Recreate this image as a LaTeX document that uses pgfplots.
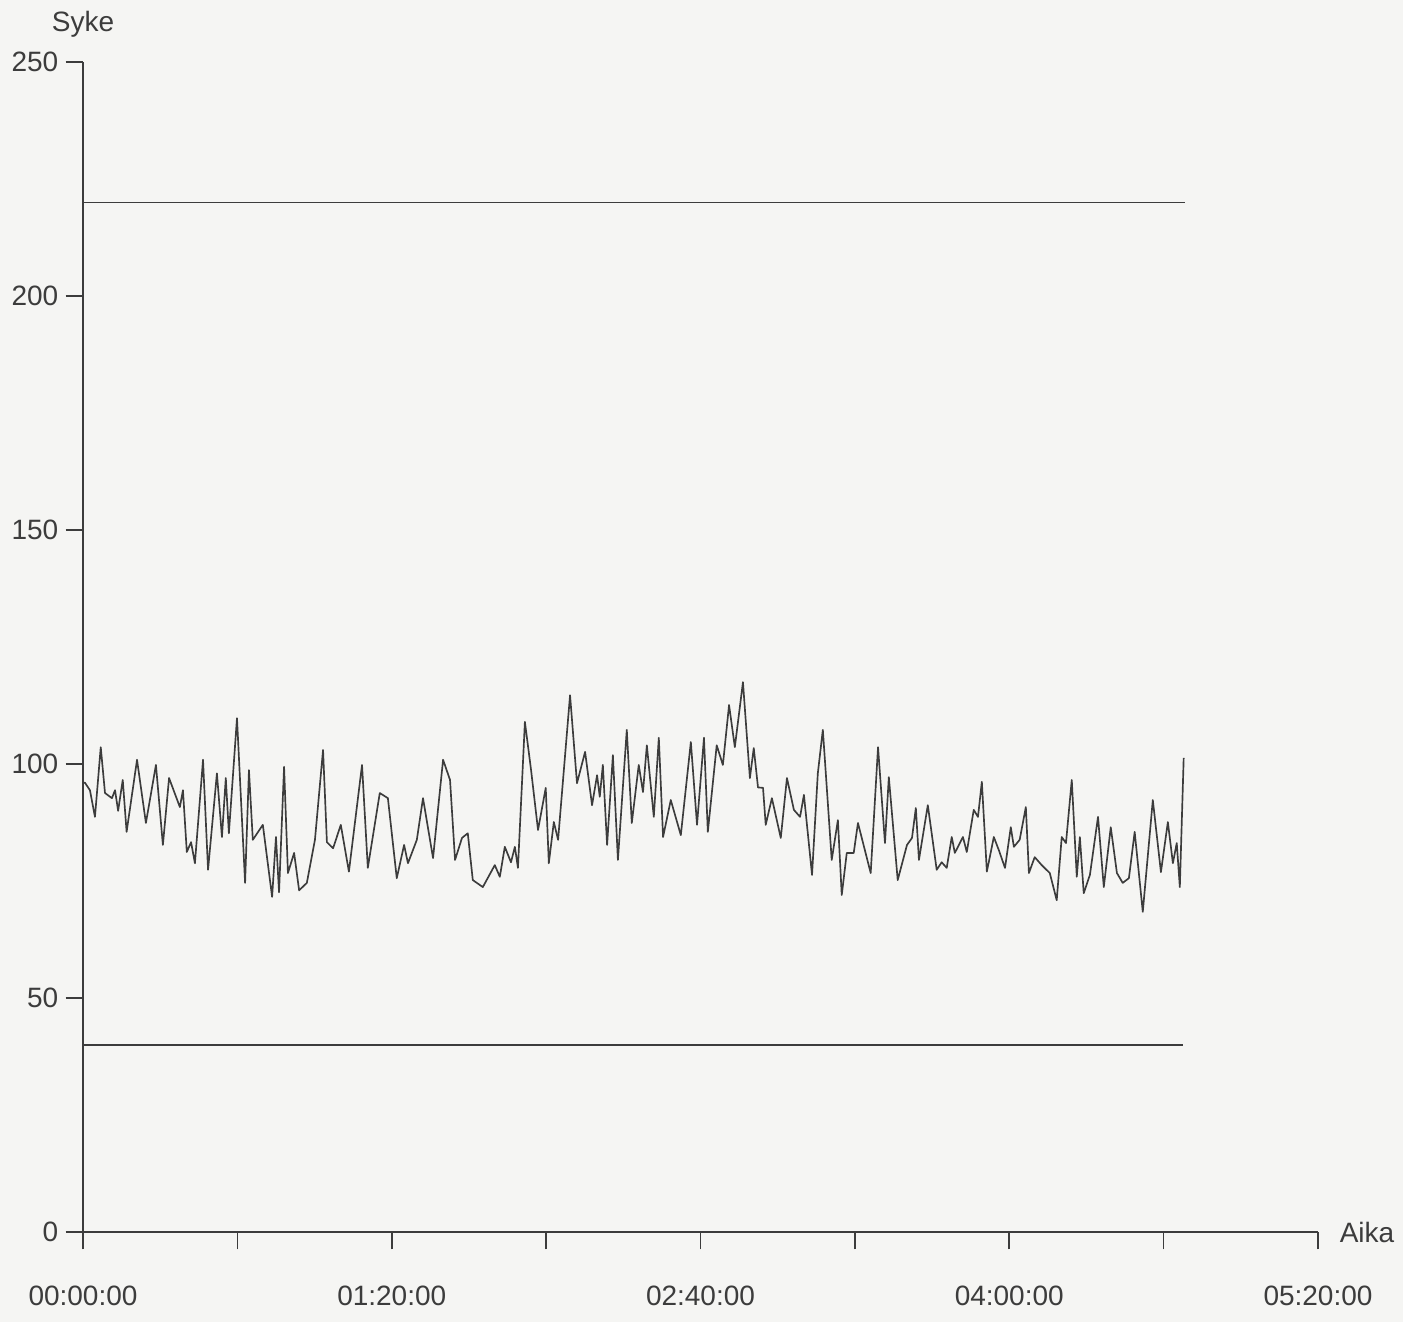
\documentclass[border=0pt]{standalone}
\usepackage{fontspec}
\setmainfont{Liberation Sans}
\usepackage{pgfplots}
\pgfplotsset{compat=1.18}
\definecolor{paper}{RGB}{245,245,243}
\definecolor{ink}{RGB}{60,60,60}
\begin{document}
\begin{tikzpicture}
\fill[paper] (0,0) rectangle (420.9pt,396.6pt);
\path[use as bounding box] (0,0) rectangle (420.9pt,396.6pt);
\begin{axis}[
  at={(24.9pt,27pt)}, anchor=south west,
  scale only axis, width=370.5pt, height=351pt,
  xmin=0, xmax=320, ymin=0, ymax=250,
  axis lines=left, axis line style={ink, line width=0.6pt, -},
  tick align=outside, tick pos=left,
  major tick length=5.2pt,
  every tick/.style={ink, line width=0.5pt},
  xtick={0,40,...,320},
  xticklabels={00:00:00,,01:20:00,,02:40:00,,04:00:00,,05:20:00},
  ytick={0,50,...,250},
  /pgf/number format/assume math mode=true,
  ticklabel style={font=\fontsize{8.4}{10}\selectfont, text=ink},
  xticklabel style={yshift=-7.5pt},
  yticklabel style={xshift=1.3pt},
  every axis y label/.style={at={(axis description cs:0,1)}, anchor=south, yshift=4pt, font=\fontsize{8.4}{10}\selectfont, text=ink},
  every axis x label/.style={at={(axis description cs:1,0)}, anchor=west, xshift=3pt, font=\fontsize{8.4}{10}\selectfont, text=ink},
  ylabel={Syke}, xlabel={Aika},
  clip=false,
]
\addplot[ink, line width=0.45pt] coordinates {(0,220) (285.5,220)};
\addplot[ink, line width=0.45pt] coordinates {(0,40) (285.0,40)};
\addplot[ink, line width=0.5pt, line join=round] coordinates {
(0,96) (0.5,96) (1.8,94.4) (3.1,88.7) (4.6,103.6) (5.7,93.8) (7.5,92.7) (8.3,94.4) (9.1,90) (10.3,96.6)
(11.3,85.5) (14.0,100.9) (16.3,87.4) (18.9,99.8) (20.7,82.7) (22.3,97) (25.1,90.8) (25.9,94.4) (26.9,81.2)
(28.0,83.3) (29.0,78.8) (31.1,100.9) (32.4,77.4) (34.7,98) (36.0,84.4) (37.0,97) (37.8,85.2) (39.9,109.8)
(42.0,74.6) (43.0,98.7) (44.0,83.8) (46.6,87) (49.0,71.6) (50.0,84.4) (50.8,72.6) (52.1,99.4) (53.1,76.7)
(54.7,81) (56.0,73) (58.0,74.6) (60.1,83.8) (62.2,103) (63.2,83.3) (64.8,82) (66.8,87) (68.9,77) (72.3,99.8)
(73.8,77.8) (76.9,93.8) (79.0,92.7) (81.3,75.6) (83.2,82.7) (84.2,78.8) (86.5,83.8) (88.1,92.7) (90.7,79.9)
(93.3,100.9) (95.1,96.6) (96.4,79.5) (98.2,84.2) (99.7,85.2) (101.0,75.2) (103.6,73.7) (106.7,78.4) (108.0,75.9)
(109.3,82.3) (110.9,79) (111.9,82.3) (112.7,77.8) (114.5,109) (116.1,98.7) (117.9,85.9) (119.9,94.9) (120.7,78.8)
(122.0,87.6) (123.1,83.8) (126.2,114.7) (128.0,95.9) (130.1,102.6) (131.9,91.2) (133.2,97.6) (133.9,93) (134.7,99.8)
(135.8,82.7) (137.3,101.9) (138.6,79.5) (140.9,107.3) (142.2,87.4) (144.0,99.8) (145.1,94) (146.1,104) (147.9,88.7)
(149.2,105.6) (150.3,84.4) (152.3,92.3) (154.9,84.8) (157.5,104.7) (159.1,87) (160.9,105.6) (161.9,85.5) (164.2,104)
(165.8,99.8) (167.4,112.6) (168.9,103.6) (171.0,117.5) (172.8,97) (173.8,103.4) (174.9,95) (176.2,94.9) (176.9,87)
(178.5,92.7) (180.8,84.2) (182.4,97) (184.2,90.2) (185.8,88.7) (186.8,93.4) (188.9,76.3) (190.4,98) (191.7,107.3)
(194.0,79.5) (195.6,88) (196.6,72) (197.9,81) (199.7,81) (200.8,87.4) (204.1,76.7) (206.0,103.6) (207.8,83.1)
(208.8,97.2) (211.1,75.2) (213.5,82.7) (214.8,84.2) (215.8,90.6) (216.6,79.5) (218.9,91.2) (221.2,77.4) (222.5,79)
(223.8,77.8) (225.1,84.4) (225.9,81) (228.0,84.4) (229.0,81.2) (230.8,90.2) (231.9,88.7) (232.9,96.2) (234.2,77)
(236.0,84.4) (237.3,81.6) (238.9,77.8) (240.4,86.5) (241.2,82.3) (242.7,83.8) (244.3,90.8) (245.1,76.7) (246.6,80.1)
(248.4,78.4) (250.5,76.7) (252.3,70.9) (253.6,84.4) (254.7,83.1) (256.2,96.6) (257.5,75.9) (258.3,84.4) (259.3,72.4)
(260.9,76.3) (263.0,88.7) (264.5,73.7) (266.3,86.5) (267.9,76.7) (269.4,74.6) (271.0,75.6) (272.5,85.5) (274.6,68.4)
(277.2,92.3) (279.3,76.9) (281.1,87.6) (282.4,78.8) (283.4,83.1) (284.2,73.7) (285.2,101.3)
};
\end{axis}
\end{tikzpicture}
\end{document}
